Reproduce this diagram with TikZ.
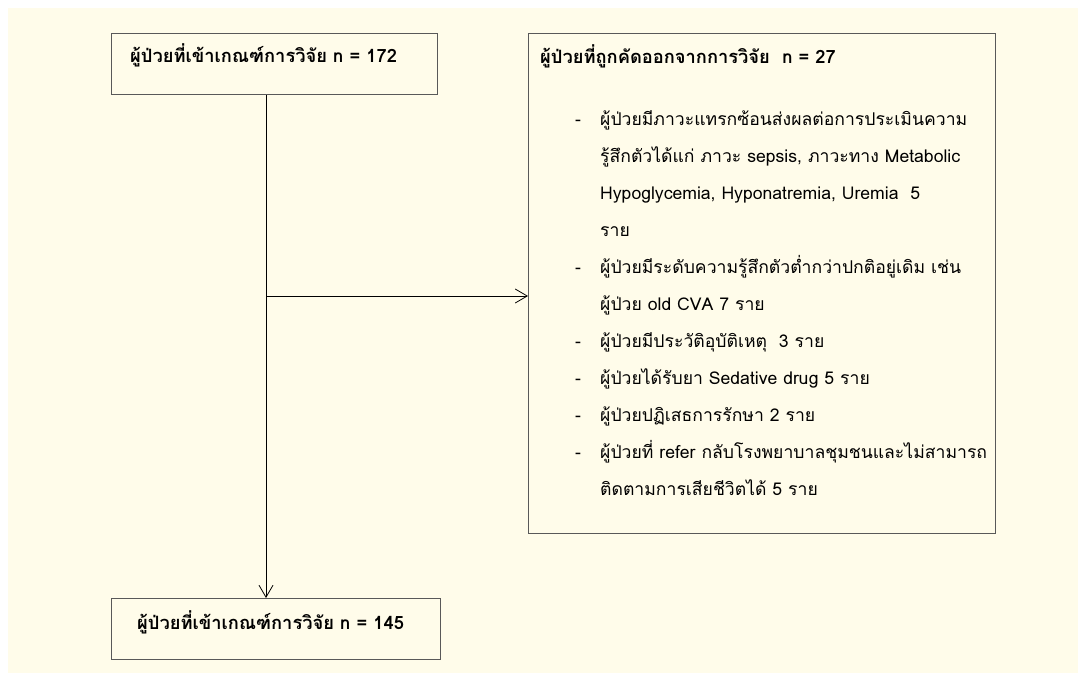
\documentclass[tikz,border=0pt]{standalone}
\usepackage{fontspec}
\setmainfont{Loma}[Script=Thai]
\usepackage{array}
\usetikzlibrary{arrows.meta}
\definecolor{cream}{HTML}{FFFCEA}
\definecolor{frame}{HTML}{595959}

\begin{document}
\begin{tikzpicture}[x=1pt,y=-1pt,font=\fontsize{17.6}{37}\selectfont]
	%
	% `box' is used for the three frames, `txt' for the texts in them.
	% `flow' is used for the arrows.
	\tikzstyle{box} = [draw=frame,line width=1.4pt,fill=cream,anchor=north west,inner sep=0pt]
	\tikzstyle{txt} = [inner sep=0pt,text=black]
	\tikzstyle{head} = [txt,anchor=base west,font=\fontsize{18.3}{37}\selectfont\bfseries]
	\tikzstyle{flow} = [draw=black,line width=0.8pt,-{Straight Barb[length=12pt,width=14pt]}]
	%
	% Page
	\useasboundingbox (0,0) rectangle (1078,673);
	\fill[white] (0,0) rectangle (1078,673);
	\fill[cream] (8,8) rectangle (1078,673);
	%
	% Included patients
	\node[box,minimum width=326pt,minimum height=61pt] (inc) at (111,33) {};
	\node[head] (inctxt) at (130,62) {ผู้ป่วยที่เข้าเกณฑ์การวิจัย n = 172};
	%
	% Excluded patients
	\node[box,minimum width=467pt,minimum height=500pt] (excl) at (528,33) {};
	\node[txt,anchor=north west] (excltxt) at (540,37) {%
		\begin{tabular}{@{}p{35pt}@{}p{25pt}@{}l@{}}
		\multicolumn{3}{@{}l@{}}{\fontsize{18.3}{37}\selectfont\bfseries ผู้ป่วยที่ถูกคัดออกจากการวิจัย\ \ n = 27}\\[25pt]
		& - & ผู้ป่วยมีภาวะแทรกซ้อนส่งผลต่อการประเมินความ\\
		& & รู้สึกตัวได้แก่ ภาวะ sepsis, ภาวะทาง Metabolic\\
		& & Hypoglycemia, Hyponatremia, Uremia\ \ 5\\
		& & ราย\\
		& - & ผู้ป่วยมีระดับความรู้สึกตัวต่ำกว่าปกติอยู่เดิม เช่น\\
		& & ผู้ป่วย old CVA 7 ราย\\
		& - & ผู้ป่วยมีประวัติอุบัติเหตุ\ \ 3 ราย\\
		& - & ผู้ป่วยได้รับยา Sedative drug 5 ราย\\
		& - & ผู้ป่วยปฏิเสธการรักษา 2 ราย\\
		& - & ผู้ป่วยที่ refer กลับโรงพยาบาลชุมชนและไม่สามารถ\\
		& & ติดตามการเสียชีวิตได้ 5 ราย
		\end{tabular}};
	%
	% Final sample
	\node[box,minimum width=329pt,minimum height=61pt] (fin) at (111,598) {};
	\node[head] (fintxt) at (137,629) {ผู้ป่วยที่เข้าเกณฑ์การวิจัย n = 145};
	%
	% Arrows
	\coordinate (split) at (266,296);
	\draw[flow] (inc.south -| split) -- (fin.north -| split);
	\draw[flow] (split) -- (excl.west |- split);
	%
\end{tikzpicture}
\end{document}
